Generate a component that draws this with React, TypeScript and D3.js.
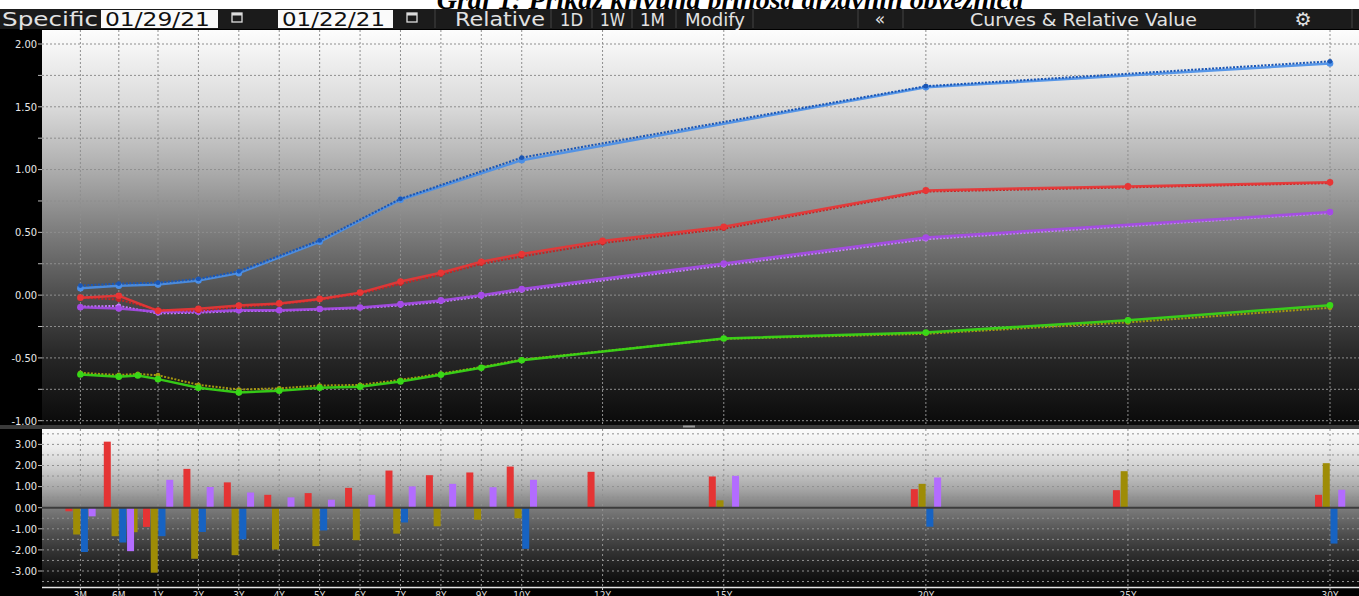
import { useMemo } from 'react'
import * as d3 from 'd3'

// tenors on the x axis (9M exists only for the green curve)
const tenors = ['3M', '6M', '9M', '1Y', '2Y', '3Y', '4Y', '5Y', '6Y', '7Y', '8Y', '9Y', '10Y', '12Y', '15Y', '20Y', '25Y', '30Y']
// horizontal position of each tenor (years, short end squeezed)
const tenorPos = [-0.92, 0.03, 0.5, 1, 2, 3, 4, 5, 6, 7, 8, 9, 10, 12, 15, 20, 25, 30]
const axisTenors = ['3M', '6M', '1Y', '2Y', '3Y', '4Y', '5Y', '6Y', '7Y', '8Y', '9Y', '10Y', '12Y', '15Y', '20Y', '25Y', '30Y']

const topTicks = [-1, -0.5, 0, 0.5, 1, 1.5, 2]
const topGrid = [-1, -0.75, -0.5, -0.25, 0, 0.25, 0.5, 0.75, 1, 1.25, 1.5, 1.75, 2]
const bottomTicks = [-3, -2, -1, 0, 1, 2, 3]
const bottomGrid = [-3.5, -3, -2.5, -2, -1.5, -1, -0.5, 0.5, 1, 1.5, 2, 2.5, 3, 3.5]

// yields, 01/29/21 (current) and 01/22/21 (previous)
const blueNow = [0.055, 0.075, null, 0.085, 0.117, 0.175, null, 0.425, null, 0.76, null, null, 1.075, null, null, 1.655, null, 1.845]
const bluePrev = [0.076, 0.092, null, 0.099, 0.129, 0.19, null, 0.436, null, 0.767, null, null, 1.095, null, null, 1.664, null, 1.862]
const redNow = [-0.02, -0.005, null, -0.125, -0.108, -0.082, -0.066, -0.03, 0.02, 0.108, 0.178, 0.266, 0.328, 0.432, 0.544, 0.834, 0.866, 0.898]
const redPrev = [-0.018, -0.036, null, -0.116, -0.126, -0.094, -0.072, -0.037, 0.011, 0.09, 0.163, 0.249, 0.308, 0.415, 0.529, 0.825, 0.858, 0.892]
const purpleNow = [-0.096, -0.106, null, -0.133, -0.13, -0.12, -0.12, -0.111, -0.098, -0.072, -0.042, 0.0, 0.049, null, 0.252, 0.459, null, 0.662]
const purplePrev = [-0.092, -0.085, null, -0.146, -0.14, -0.127, -0.125, -0.115, -0.104, -0.082, -0.053, -0.01, 0.036, null, 0.237, 0.445, null, 0.654]
const greenNow = [-0.632, -0.65, -0.64, -0.669, -0.738, -0.775, -0.762, -0.738, -0.73, -0.687, -0.634, -0.579, -0.518, null, -0.345, -0.297, -0.2, -0.08]
const greenPrev = [-0.619, -0.636, -0.628, -0.638, -0.714, -0.752, -0.742, -0.72, -0.715, -0.675, -0.625, -0.573, -0.513, null, -0.348, -0.308, -0.217, -0.101]

// weekly change, bp (bar groups: red, olive, blue, purple)
const redChange = [-0.17, 3.13, null, -0.91, 1.84, 1.2, 0.61, 0.69, 0.94, 1.76, 1.54, 1.67, 1.95, 1.7, 1.48, 0.88, 0.83, 0.61]
const oliveChange = [-1.27, -1.35, -1.16, -3.08, -2.42, -2.25, -1.98, -1.82, -1.54, -1.23, -0.88, -0.57, -0.5, null, 0.35, 1.13, 1.73, 2.11]
const blueChange = [-2.1, -1.65, null, -1.35, -1.15, -1.5, null, -1.08, null, -0.7, null, null, -1.95, null, null, -0.9, null, -1.7]
const purpleChange = [-0.41, -2.06, null, 1.32, 0.98, 0.72, 0.49, 0.38, 0.61, 1.01, 1.13, 0.97, 1.32, null, 1.51, 1.43, null, 0.85]

type Pt = { pos: number; value: number }
const toPts = (vals: (number | null)[]): Pt[] =>
  vals.flatMap((v, i) => (v == null ? [] : [{ pos: tenorPos[i], value: v }]))

const W = 1359
const H = 596
const PLOT_L = 42
const TOP_Y0 = 30
const TOP_Y1 = 425
const BOT_Y0 = 429
const BOT_Y1 = 587
const LABEL_FONT = "'Liberation Sans Narrow', 'DejaVu Sans Condensed', 'Roboto Condensed', 'Liberation Sans', sans-serif"
const UI_FONT = "'DejaVu Sans', 'Noto Sans', sans-serif"

export default function App() {
  const x = useMemo(() => d3.scaleLinear().domain([1, 30]).range([158, 1330]), [])
  const yTop = useMemo(() => d3.scaleLinear().domain([-1, 2]).range([420.7, 44]), [])
  const yBot = useMemo(() => d3.scaleLinear().domain([-3, 3]).range([571, 444.4]), [])

  const line = d3.line<Pt>().x(d => x(d.pos)).y(d => yTop(d.value))

  const curves = [
    { now: greenNow, prev: greenPrev, c: '#38d817', pc: '#a69810', prevOnTop: false },
    { now: purpleNow, prev: purplePrev, c: '#a54ae6', pc: '#c67dff', prevOnTop: false },
    { now: redNow, prev: redPrev, c: '#e83535', pc: '#c22424', prevOnTop: false },
    { now: blueNow, prev: bluePrev, c: '#4a8fe8', pc: '#1b56b4', prevOnTop: true },
  ]

  const bars = [
    { vals: redChange, c: '#e53434' },
    { vals: oliveChange, c: '#9e8c06' },
    { vals: blueChange, c: '#1763c2' },
    { vals: purpleChange, c: '#b36cff' },
  ]

  const calIcon = (cx: number) => (
    <g transform={`translate(${cx},18)`}>
      <rect x={-5} y={-5} width={10} height={9} fill="none" stroke="#ddd" strokeWidth={1.3} />
      <rect x={-5} y={-5} width={10} height={2.5} fill="#ddd" />
    </g>
  )

  const uiText = (label: string, x0: number, x1: number, fill = '#e2e2e2', size = 20) => (
    <text x={x0} y={26} fontSize={size} fill={fill} textLength={x1 - x0} lengthAdjust="spacingAndGlyphs">
      {label}
    </text>
  )

  const sep = (sx: number) => <line x1={sx} x2={sx} y1={9} y2={28} stroke="#444" />

  return (
    <svg width={W} height={H} style={{ position: 'absolute', left: 0, top: 0 }}>
      <defs>
        <linearGradient id="topBg" gradientUnits="userSpaceOnUse" x1={0} y1={TOP_Y0} x2={0} y2={TOP_Y1}>
          <stop offset="0" stopColor="#fdfdfd" />
          <stop offset="0.2" stopColor="#d8d8d8" />
          <stop offset="0.35" stopColor="#aeaeae" />
          <stop offset="0.5" stopColor="#808080" />
          <stop offset="0.67" stopColor="#4e4e4e" />
          <stop offset="0.83" stopColor="#262626" />
          <stop offset="1" stopColor="#0a0a0a" />
        </linearGradient>
        <linearGradient id="botBg" gradientUnits="userSpaceOnUse" x1={0} y1={BOT_Y0} x2={0} y2={BOT_Y1}>
          <stop offset="0" stopColor="#fbfbfb" />
          <stop offset="0.12" stopColor="#ececec" />
          <stop offset="0.25" stopColor="#cdcdcd" />
          <stop offset="0.38" stopColor="#a6a6a6" />
          <stop offset="0.5" stopColor="#7c7c7c" />
          <stop offset="0.64" stopColor="#555" />
          <stop offset="0.78" stopColor="#323232" />
          <stop offset="0.9" stopColor="#191919" />
          <stop offset="1" stopColor="#070707" />
        </linearGradient>
      </defs>

      {/* page background + title */}
      <rect x={0} y={0} width={W} height={H} fill="#000" />
      <rect x={0} y={0} width={W} height={9} fill="#fff" />
      <text x={730} y={9} textAnchor="middle" fontFamily="'Liberation Serif', 'DejaVu Serif', serif"
        fontWeight="bold" fontStyle="italic" fontSize={28} fill="#000">
        Graf 1: Prikaz krivulja prinosa državnih obveznica
      </text>

      {/* toolbar */}
      <g fontFamily={UI_FONT}>
        <rect x={0} y={9} width={W} height={20} fill="#1b1b1b" />
        {uiText('Specific', 2, 98)}
        <rect x={101} y={10} width={117} height={18} fill="#fafafa" />
        {uiText('01/29/21', 105, 210, '#111')}
        {calIcon(237)}
        <rect x={278} y={10} width={115} height={18} fill="#fafafa" />
        {uiText('01/22/21', 282, 385, '#111')}
        {calIcon(412)}
        {sep(435)}
        {uiText('Relative', 455, 545)}
        {sep(551)}
        {uiText('1D', 560, 583, '#e2e2e2', 17)}
        {sep(592)}
        {uiText('1W', 600, 625, '#e2e2e2', 17)}
        {sep(632)}
        {uiText('1M', 640, 665, '#e2e2e2', 17)}
        {sep(676)}
        {uiText('Modify', 685, 745, '#e2e2e2', 18)}
        {sep(753)}
        {sep(858)}
        <text x={880} y={25} fontSize={17} fill="#e2e2e2" textAnchor="middle">«</text>
        {sep(903)}
        {uiText('Curves & Relative Value', 970, 1197, '#e2e2e2', 18)}
        {sep(1255)}
        <text x={1303} y={26} fontSize={19} fill="#e2e2e2" textAnchor="middle">⚙</text>
        {sep(1352)}
      </g>

      {/* top panel */}
      <rect x={PLOT_L} y={TOP_Y0} width={W - PLOT_L} height={TOP_Y1 - TOP_Y0} fill="url(#topBg)" />
      <g stroke="#8e8e8e" strokeWidth={1} strokeDasharray="2,2">
        {topGrid.map(v => (
          <line key={`tg${v}`} x1={PLOT_L} x2={W} y1={yTop(v)} y2={yTop(v)} />
        ))}
        {axisTenors.map(t => {
          const px = x(tenorPos[tenors.indexOf(t)])
          return <line key={`tv${t}`} x1={px} x2={px} y1={TOP_Y0} y2={TOP_Y1} />
        })}
      </g>
      <g fontFamily={LABEL_FONT} fontSize={11} fill="#e8e8e8">
        {topGrid.map(v => (
          <line key={`tt${v}`} x1={PLOT_L - 4} x2={PLOT_L} y1={yTop(v)} y2={yTop(v)} stroke="#bbb" />
        ))}
        {topTicks.map(v => (
          <text key={`tl${v}`} x={PLOT_L - 5} y={yTop(v)} dy="0.35em" textAnchor="end">{v.toFixed(2)}</text>
        ))}
      </g>

      {curves.map((s, i) => {
        const now = toPts(s.now)
        const prev = toPts(s.prev)
        const nowG = (
          <g>
            <path d={line(now) ?? ''} fill="none" stroke={s.c} strokeWidth={2.5} strokeOpacity={0.92} />
            {now.map((d, j) => (
              <circle key={j} cx={x(d.pos)} cy={yTop(d.value)} r={3.3} fill={s.c} />
            ))}
          </g>
        )
        const prevG = (
          <g>
            <path d={line(prev) ?? ''} fill="none" stroke={s.pc} strokeWidth={2} strokeDasharray="2,1.5" />
            {prev.map((d, j) => (
              <circle key={`p${j}`} cx={x(d.pos)} cy={yTop(d.value)} r={2.4} fill={s.pc} />
            ))}
          </g>
        )
        return (
          <g key={`c${i}`}>
            {s.prevOnTop ? nowG : prevG}
            {s.prevOnTop ? prevG : nowG}
          </g>
        )
      })}

      {/* splitter */}
      <rect x={0} y={TOP_Y1} width={W} height={BOT_Y0 - TOP_Y1} fill="#3a3a3a" />
      <rect x={683} y={425.5} width={12} height={2} fill="#9a9a9a" />

      {/* bottom panel */}
      <rect x={PLOT_L} y={BOT_Y0} width={W - PLOT_L} height={BOT_Y1 - BOT_Y0} fill="url(#botBg)" />
      <g stroke="#909090" strokeWidth={1} strokeDasharray="2,3">
        {bottomGrid.map(v => (
          <line key={`bg${v}`} x1={PLOT_L} x2={W} y1={yBot(v)} y2={yBot(v)} />
        ))}
        {axisTenors.map(t => {
          const px = x(tenorPos[tenors.indexOf(t)])
          return <line key={`bv${t}`} x1={px} x2={px} y1={BOT_Y0} y2={BOT_Y1} />
        })}
      </g>
      {bars.map((b, i) =>
        b.vals.map((v, j) => {
          if (v == null) return null
          const px = x(tenorPos[j]) - 15 + i * 7.75
          const y0 = yBot(0)
          const y1 = yBot(v)
          return (
            <rect key={`b${i}-${j}`} x={px} width={7} y={Math.min(y0, y1)} height={Math.abs(y1 - y0)} fill={b.c} />
          )
        })
      )}
      <line x1={PLOT_L} x2={W} y1={yBot(0)} y2={yBot(0)} stroke="#3c3c3c" strokeWidth={2} />
      <g fontFamily={LABEL_FONT} fontSize={11} fill="#e8e8e8">
        {bottomTicks.map(v => (
          <g key={`bl${v}`}>
            <line x1={PLOT_L - 4} x2={PLOT_L} y1={yBot(v)} y2={yBot(v)} stroke="#bbb" />
            <text x={PLOT_L - 5} y={yBot(v)} dy="0.35em" textAnchor="end">{v.toFixed(2)}</text>
          </g>
        ))}
      </g>
      <line x1={PLOT_L} x2={W} y1={BOT_Y1 + 0.5} y2={BOT_Y1 + 0.5} stroke="#e6e6e6" strokeWidth={1.5} />

      {/* x axis labels, partly cut by the bottom edge */}
      <g fontFamily={LABEL_FONT} fontSize={10} fill="#d8d8d8" textAnchor="middle">
        {axisTenors.map(t => {
          const px = x(tenorPos[tenors.indexOf(t)])
          return (
            <g key={`xl${t}`}>
              <line x1={px} x2={px} y1={BOT_Y1} y2={BOT_Y1 + 3} stroke="#ccc" />
              <text x={px} y={599}>{t}</text>
            </g>
          )
        })}
      </g>
    </svg>
  )
}
